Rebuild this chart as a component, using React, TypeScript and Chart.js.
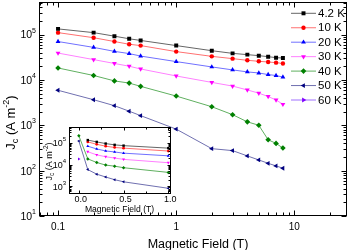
import React, { useEffect, useRef } from "react";
import { Chart, registerables } from "chart.js";
import { drawPoint } from "chart.js/helpers";

Chart.register(...registerables);

const FONT = '"Liberation Sans", Arial, Helvetica, sans-serif';

// ---------- data ----------
const fields = [0.1, 0.2, 0.3, 0.4, 0.5, 1, 2, 3, 4, 5, 6, 7, 8];
const jc4K = [1.33e5, 1.1e5, 9.2e4, 8.05e4, 7.4e4, 5.7e4, 4.4e4, 3.84e4, 3.6e4, 3.42e4, 3.25e4, 3.09e4, 3.03e4];
const jc10K = [1.1e5, 8.5e4, 7.0e4, 6.1e4, 5.7e4, 4.2e4, 3.3e4, 2.94e4, 2.7e4, 2.57e4, 2.48e4, 2.4e4, 2.3e4];
const jc20K = [7.0e4, 5.2e4, 4.25e4, 3.8e4, 3.35e4, 2.53e4, 1.93e4, 1.66e4, 1.5e4, 1.42e4, 1.31e4, 1.25e4, 1.15e4];
const jc30K = [3.9e4, 2.8e4, 2.3e4, 2.0e4, 1.74e4, 1.22e4, 8.8e3, 7.3e3, 6.0e3, 5.1e3, 4.3e3, 3.6e3, 2.9e3];
const jc40K = [1.83e4, 1.25e4, 9.5e3, 8.5e3, 7.2e3, 4.4e3, 2.56e3, 1.71e3, 1.19e3, 1.0e3, 479, 398, 315];
const jc50K = [5.9e3, 3.65e3, 2.7e3, 2.04e3, 1.63e3, 822, 305, 276, 211, 172, 145, 127, 113];
const jc60K: number[] = [];
// zero-field values (inset only)
const zeroFieldJc: (number | null)[] = [null, null, null, null, 2.1e5, 1.2e5, 1.8e4];

const temps = ["4.2 K", "10 K", "20 K", "30 K", "40 K", "50 K", "60 K"];
const seriesJc = [jc4K, jc10K, jc20K, jc30K, jc40K, jc50K, jc60K];

// tick labels
const xTickMainValues = [0.1, 1, 10];
const xTickMainLabels = ["0.1", "1", "10"];
const yTickMainExps = [1, 2, 3, 4, 5];
const xTickInsetValues = [0, 0.5, 1];
const xTickInsetLabels = ["0.0", "0.5", "1.0"];
const xMinorInsetValues = [0.25, 0.75];
const yTickInsetExps = [3, 4, 5];

// ---------- styles ----------
const markerColors = ["#000000", "#ff0000", "#0000ff", "#ff00ff", "#008000", "#000080", "#8000ff"];
const lineColors = ["#666666", "#ff7070", "#7070ff", "#ff80ff", "#60b060", "#7070b0", "#a070ff"];
const pointStyles = ["rect", "circle", "triangle", "triangle", "rectRot", "triangle", "triangle"];
const pointRotations = [0, 0, 0, 180, 0, 270, 90];
const pointRadii = [2.8, 2.2, 2.8, 2.8, 2.8, 2.8, 2.8];

type Piece = [string, number, number];

function drawRich(ctx: CanvasRenderingContext2D, pieces: Piece[], cx: number, cy: number, rotate: boolean) {
  ctx.save();
  ctx.translate(cx, cy);
  if (rotate) ctx.rotate(-Math.PI / 2);
  ctx.textBaseline = "alphabetic";
  ctx.textAlign = "left";
  let total = 0;
  const widths = pieces.map(([t, s]) => {
    ctx.font = `${s}px ${FONT}`;
    const w = ctx.measureText(t).width;
    total += w;
    return w;
  });
  let x = -total / 2;
  pieces.forEach(([t, s, dy], i) => {
    ctx.font = `${s}px ${FONT}`;
    ctx.fillText(t, x, dy);
    x += widths[i];
  });
  ctx.restore();
}

function drawPow(ctx: CanvasRenderingContext2D, exp: string, xRight: number, yMid: number, bs: number, es: number) {
  ctx.textBaseline = "middle";
  ctx.textAlign = "left";
  ctx.font = `${bs}px ${FONT}`;
  const wb = ctx.measureText("10").width;
  ctx.font = `${es}px ${FONT}`;
  const we = ctx.measureText(exp).width;
  const x0 = xRight - wb - we;
  ctx.font = `${bs}px ${FONT}`;
  ctx.fillText("10", x0, yMid);
  ctx.font = `${es}px ${FONT}`;
  ctx.fillText(exp, x0 + wb, yMid - bs * 0.45);
}

function line(ctx: CanvasRenderingContext2D, x1: number, y1: number, x2: number, y2: number) {
  ctx.beginPath();
  ctx.moveTo(x1, y1);
  ctx.lineTo(x2, y2);
  ctx.stroke();
}

const crisp = (v: number) => Math.round(v) + 0.5;

function logMinors(min: number, max: number): number[] {
  const out: number[] = [];
  for (let e = Math.floor(Math.log10(min)); e <= Math.ceil(Math.log10(max)); e++) {
    for (let m = 2; m <= 9; m++) {
      const v = m * Math.pow(10, e);
      if (v >= min && v <= max) out.push(v);
    }
  }
  return out;
}

function drawFrameAndTicks(
  chart: any,
  xMajor: number[],
  xMinor: number[],
  yMajor: number[],
  yMinor: number[],
  majLen: number,
  minLen: number
) {
  const { ctx, chartArea: a, scales } = chart;
  const xs = scales.x;
  const ys = scales.y;
  ctx.save();
  ctx.strokeStyle = "#000";
  ctx.lineWidth = 1;
  const L = crisp(a.left - 0.5);
  const R = crisp(a.right - 1);
  const T = crisp(a.top - 0.5);
  const B = crisp(a.bottom - 1);
  ctx.strokeRect(L, T, R - L, B - T);
  const xt = (v: number, len: number) => {
    const p = crisp(xs.getPixelForValue(v));
    line(ctx, p, B, p, B - len);
    line(ctx, p, T, p, T + len);
  };
  const yt = (v: number, len: number) => {
    const p = crisp(ys.getPixelForValue(v));
    line(ctx, L, p, L + len, p);
    line(ctx, R, p, R - len, p);
  };
  xMajor.forEach((v) => xt(v, majLen));
  xMinor.forEach((v) => xt(v, minLen));
  yMajor.forEach((v) => yt(v, majLen));
  yMinor.forEach((v) => yt(v, minLen));
  ctx.restore();
}

const X_MIN = 0.069, X_MAX = 28, Y_MIN = 10, Y_MAX = 5e5;
const IX_MIN = -0.11, IX_MAX = 1.03, IY_MIN = 450, IY_MAX = 5.3e5;

const mainPlugin = {
  id: "mainDecor",
  afterDraw(chart: any) {
    const { ctx, scales } = chart;
    const xs = scales.x;
    const ys = scales.y;
    drawFrameAndTicks(
      chart,
      xTickMainValues,
      logMinors(X_MIN, X_MAX).filter((v) => !xTickMainValues.includes(v)),
      yTickMainExps.map((e) => Math.pow(10, e)),
      logMinors(Y_MIN, Y_MAX),
      5,
      3
    );
    ctx.save();
    ctx.fillStyle = "#000";
    // x tick labels
    ctx.font = `10px ${FONT}`;
    ctx.textAlign = "center";
    ctx.textBaseline = "middle";
    xTickMainValues.forEach((v, i) => {
      ctx.fillText(xTickMainLabels[i], xs.getPixelForValue(v), 227);
    });
    // y tick labels
    yTickMainExps.forEach((e) => {
      drawPow(ctx, String(e), 36, ys.getPixelForValue(Math.pow(10, e)) + 1, 10.5, 7);
    });
    // titles
    drawRich(ctx, [["Magnetic Field (T)", 12.5, 0]], 198, 248, false);
    drawRich(
      ctx,
      [
        ["J", 13, 0],
        ["c", 9, 3],
        [" (A m", 13, 0],
        ["-2", 9, -6],
        [")", 13, 0],
      ],
      14.5,
      122.5,
      true
    );
    // legend
    temps.forEach((t, i) => {
      const y = 13.3 + i * 14.45;
      ctx.strokeStyle = lineColors[i];
      ctx.lineWidth = 1;
      line(ctx, 291, y, 316, y);
      ctx.fillStyle = markerColors[i];
      ctx.strokeStyle = markerColors[i];
      drawPoint(ctx, { pointStyle: pointStyles[i], rotation: pointRotations[i], radius: pointRadii[i], borderWidth: 0 } as any, 303.5, y);
      ctx.fillStyle = "#000";
      ctx.font = `11.5px ${FONT}`;
      ctx.textAlign = "left";
      ctx.textBaseline = "middle";
      ctx.fillText(t, 318, y + 0.5);
    });
    ctx.restore();
  },
};

const insetPlugin = {
  id: "insetDecor",
  beforeDraw(chart: any) {
    const { ctx, chartArea: a } = chart;
    ctx.save();
    ctx.fillStyle = "#fff";
    ctx.fillRect(a.left, a.top, a.right - a.left, a.bottom - a.top);
    ctx.restore();
  },
  afterDraw(chart: any) {
    const { ctx, scales } = chart;
    const xs = scales.x;
    const ys = scales.y;
    drawFrameAndTicks(
      chart,
      xTickInsetValues,
      xMinorInsetValues,
      yTickInsetExps.map((e) => Math.pow(10, e)),
      logMinors(IY_MIN, IY_MAX),
      3,
      2
    );
    ctx.save();
    ctx.fillStyle = "#000";
    ctx.font = `9px ${FONT}`;
    ctx.textAlign = "center";
    ctx.textBaseline = "middle";
    xTickInsetValues.forEach((v, i) => {
      ctx.fillText(xTickInsetLabels[i], xs.getPixelForValue(v) + 2, 200);
    });
    yTickInsetExps.forEach((e) => {
      drawPow(ctx, String(e), 66, ys.getPixelForValue(Math.pow(10, e)) + 1, 9, 6);
    });
    drawRich(ctx, [["Magnetic Field (T)", 8.6, 0]], 119.5, 212, false);
    drawRich(
      ctx,
      [
        ["J", 9, 0],
        ["c", 6.5, 2],
        [" (A m", 9, 0],
        ["-2", 6.5, -4],
        [")", 9, 0],
      ],
      51.5,
      161.5,
      true
    );
    ctx.restore();
  },
};

function makeDataset(i: number, pts: { x: number; y: number }[], scale: number) {
  return {
    label: temps[i],
    data: pts,
    borderColor: lineColors[i],
    backgroundColor: markerColors[i],
    pointBackgroundColor: markerColors[i],
    pointBorderColor: markerColors[i],
    pointBorderWidth: 0,
    pointStyle: pointStyles[i] as any,
    pointRotation: pointRotations[i],
    pointRadius: pointRadii[i] * scale,
    pointHoverRadius: pointRadii[i] * scale,
    borderWidth: 1,
    tension: 0,
    fill: false,
  };
}

export default function App() {
  const mainRef = useRef<HTMLCanvasElement>(null);
  const insetRef = useRef<HTMLCanvasElement>(null);

  useEffect(() => {
    const mainData = seriesJc.map((arr, i) =>
      makeDataset(
        i,
        arr.map((v, k) => ({ x: fields[k], y: v })),
        1
      )
    );
    const insetData = seriesJc.map((arr, i) => {
      const pts: { x: number; y: number }[] = [];
      const z = zeroFieldJc[i];
      if (z != null) pts.push({ x: 0, y: z });
      arr.forEach((v, k) => {
        if (fields[k] <= 1) pts.push({ x: fields[k], y: v });
      });
      return makeDataset(i, pts, 0.62);
    });

    const common = {
      responsive: false,
      animation: false as const,
      devicePixelRatio: 1,
      events: [] as any[],
      plugins: { legend: { display: false }, tooltip: { enabled: false } },
    };

    const main = new Chart(mainRef.current!, {
      type: "line",
      data: { datasets: mainData as any },
      options: {
        ...common,
        layout: { padding: { left: 39, top: 1, right: 2, bottom: 34 } },
        scales: {
          x: { type: "logarithmic", min: X_MIN, max: X_MAX, display: false },
          y: { type: "logarithmic", min: Y_MIN, max: Y_MAX, display: false },
        },
      } as any,
      plugins: [mainPlugin],
    });

    const inset = new Chart(insetRef.current!, {
      type: "line",
      data: { datasets: insetData as any },
      options: {
        ...common,
        layout: { padding: { left: 69, top: 127, right: 179, bottom: 56 } },
        scales: {
          x: { type: "linear", min: IX_MIN, max: IX_MAX, display: false },
          y: { type: "logarithmic", min: IY_MIN, max: IY_MAX, display: false },
        },
      } as any,
      plugins: [insetPlugin],
    });

    return () => {
      main.destroy();
      inset.destroy();
    };
  }, []);

  return (
    <div style={{ position: "fixed", left: 0, top: 0, width: 350, height: 250, background: "#fff" }}>
      <canvas ref={mainRef} width={350} height={250} style={{ position: "absolute", left: 0, top: 0 }} />
      <canvas ref={insetRef} width={350} height={250} style={{ position: "absolute", left: 0, top: 0 }} />
    </div>
  );
}
